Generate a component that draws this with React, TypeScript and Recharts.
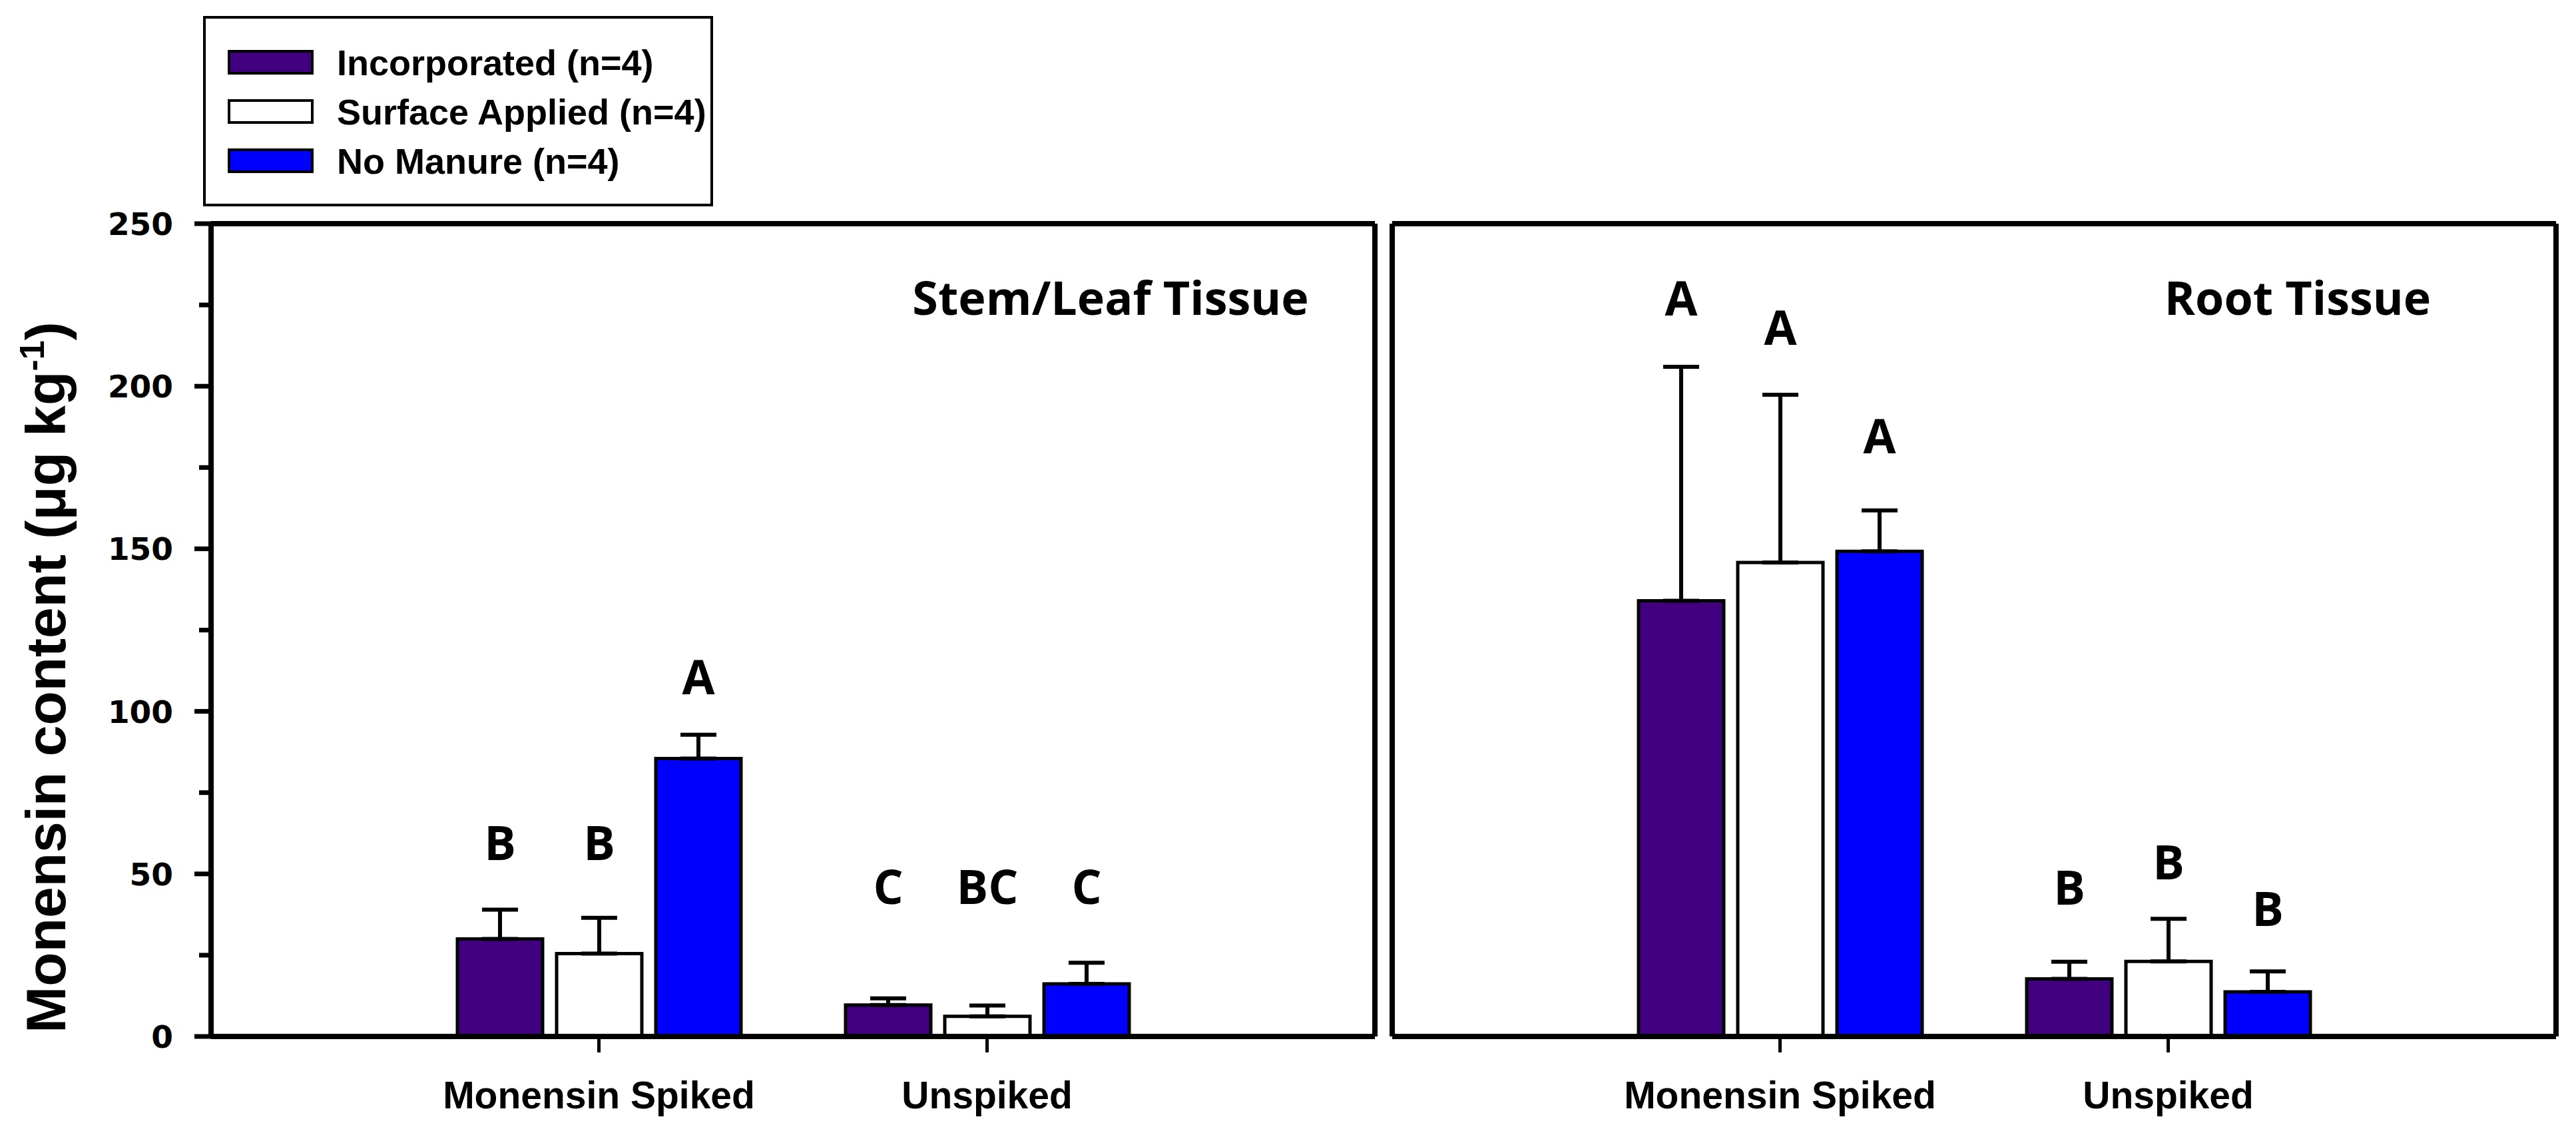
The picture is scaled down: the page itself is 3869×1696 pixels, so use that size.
import React from 'react';
import { BarChart, Bar, XAxis, YAxis, ErrorBar, LabelList, Legend } from 'recharts';

// ---------- data ----------
const categories = ['Monensin Spiked', 'Unspiked'];
const seriesKeys = ['inc', 'sur', 'non'];
const seriesNames = ['Incorporated (n=4)', 'Surface Applied (n=4)', 'No Manure (n=4)'];
const seriesColors = ['#400080', '#FFFFFF', '#0000FF'];
const yTicks = [0, 25, 50, 75, 100, 125, 150, 175, 200, 225, 250];
const yMajorTicks = [0, 50, 100, 150, 200, 250];

// Stem/Leaf tissue panel
const stemIncorporated = [30, 9.7];
const stemSurface = [25.5, 6.2];
const stemNoManure = [85.5, 16.2];
const stemIncorporatedSE = [9, 2];
const stemSurfaceSE = [11, 3.3];
const stemNoManureSE = [7.3, 6.5];
const stemIncorporatedLetters = ['B', 'C'];
const stemSurfaceLetters = ['B', 'BC'];
const stemNoManureLetters = ['A', 'C'];
const stemIncorporatedLetterY = [59.5, 46];
const stemSurfaceLetterY = [59.5, 46];
const stemNoManureLetterY = [110.5, 46];

// Root tissue panel
const rootIncorporated = [134, 17.7];
const rootSurface = [145.8, 23.1];
const rootNoManure = [149.2, 13.7];
const rootIncorporatedSE = [72, 5.3];
const rootSurfaceSE = [51.6, 13.1];
const rootNoManureSE = [12.6, 6.3];
const rootIncorporatedLetters = ['A', 'B'];
const rootSurfaceLetters = ['A', 'B'];
const rootNoManureLetters = ['A', 'B'];
const rootIncorporatedLetterY = [227, 45.7];
const rootSurfaceLetterY = [218, 53.5];
const rootNoManureLetterY = [184.5, 39.3];

function buildData(vals: number[][], ses: number[][], letters: string[][], letterYs: number[][]) {
  return categories.map((c, i) => {
    const row: any = { category: c };
    seriesKeys.forEach((k, s) => {
      row[k] = vals[s][i];
      row[k + 'Err'] = [0, ses[s][i]];
      row[k + 'Letter'] = letters[s][i];
      row[k + 'LetterY'] = letterYs[s][i];
    });
    return row;
  });
}

const stemData = buildData(
  [stemIncorporated, stemSurface, stemNoManure],
  [stemIncorporatedSE, stemSurfaceSE, stemNoManureSE],
  [stemIncorporatedLetters, stemSurfaceLetters, stemNoManureLetters],
  [stemIncorporatedLetterY, stemSurfaceLetterY, stemNoManureLetterY]
);
const rootData = buildData(
  [rootIncorporated, rootSurface, rootNoManure],
  [rootIncorporatedSE, rootSurfaceSE, rootNoManureSE],
  [rootIncorporatedLetters, rootSurfaceLetters, rootNoManureLetters],
  [rootIncorporatedLetterY, rootSurfaceLetterY, rootNoManureLetterY]
);

// ---------- styles ----------
const ARIAL = '"Liberation Sans", Arial, sans-serif';
const CALIBRI = '"Open Sans", Lato, sans-serif';
const FRAME = { stroke: '#000', strokeWidth: 8 };

const makeLetterLabel = (data: any[], key: string) => (props: any) => {
  const vb = props.viewBox || props;
  const x = Number(vb.x);
  const y = Number(vb.y);
  const w = Number(vb.width);
  const h = Number(vb.height);
  const idx = props.index;
  const row = data[idx];
  if (!row) return null;
  const top = Math.min(y, y + h);
  const bottom = Math.max(y, y + h);
  const pxPerUnit = (bottom - top) / row[key];
  const ly = bottom - row[key + 'LetterY'] * pxPerUnit;
  return (
    <text
      x={x + w / 2}
      y={ly}
      dy="0.36em"
      textAnchor="middle"
      fontFamily={CALIBRI}
      fontWeight={700}
      fontSize={71}
      fill="#000"
    >
      {props.value}
    </text>
  );
};

const YTick = (props: any) => {
  const { x, y, payload } = props;
  const v = payload.value;
  const major = yMajorTicks.includes(v);
  return (
    <g>
      <line x1={x - (major ? 25 : 18)} x2={x} y1={y} y2={y} stroke="#000" strokeWidth={7} />
      {major && (
        <text
          x={x - 57}
          y={y}
          dy="0.36em"
          textAnchor="end"
          fontFamily='"DejaVu Sans", sans-serif'
          fontWeight="bold"
          fontSize={47}
          fill="#000"
        >
          {v}
        </text>
      )}
    </g>
  );
};

const renderLegend = (props: any) => {
  const payload: any[] = props.payload || [];
  const ordered = seriesNames.map((name, i) => {
    const p = payload.find((q: any) => q.value === name);
    return { name: p ? p.value : name, color: seriesColors[i] };
  });
  return (
    <div
      style={{
        position: 'relative',
        width: 766,
        height: 286,
        border: '4px solid #000',
        boxSizing: 'border-box',
        background: '#fff',
      }}
    >
      {ordered.map((p, i) => (
        <div
          key={i}
          style={{
            position: 'absolute',
            left: 33,
            top: 28.5 + 74 * i,
            height: 74,
            display: 'flex',
            alignItems: 'center',
            whiteSpace: 'nowrap',
          }}
        >
          <div
            style={{
              width: 129,
              height: 37,
              boxSizing: 'border-box',
              border: '4px solid #000',
              background: p.color,
            }}
          />
          <span
            style={{
              marginLeft: 35,
              fontFamily: ARIAL,
              fontWeight: 700,
              fontSize: 54,
              lineHeight: '54px',
              color: '#000',
            }}
          >
            {p.name}
          </span>
        </div>
      ))}
    </div>
  );
};

function Panel({ data, width, marginLeft, yAxisWidth, marginRight, showY, showLegend }: any) {
  return (
    <BarChart
      width={width}
      height={1696}
      data={data}
      margin={{ top: 326, right: marginRight, bottom: 19, left: marginLeft }}
      barSize={128}
      barGap={21}
    >
      <XAxis
        dataKey="category"
        interval={0}
        padding={{ left: 291, right: 291 }}
        height={120}
        tickSize={24}
        tickMargin={44}
        tickLine={{ stroke: '#000', strokeWidth: 5 }}
        axisLine={FRAME}
        tick={{ fill: '#000', fontSize: 57, fontWeight: 700, fontFamily: ARIAL }}
      />
      <XAxis xAxisId="top" orientation="top" dataKey="category" height={10} tick={false} tickLine={false} axisLine={FRAME} />
      <YAxis
        domain={[0, 250]}
        ticks={yTicks}
        interval={0}
        width={yAxisWidth}
        tickSize={0}
        tickMargin={0}
        tickLine={false}
        axisLine={FRAME}
        tick={showY ? <YTick /> : false}
      />
      <YAxis yAxisId="right" orientation="right" domain={[0, 250]} width={10} tick={false} tickLine={false} axisLine={FRAME} />
      {showLegend && (
        <Legend
          layout="vertical"
          align="center"
          verticalAlign="middle"
          content={renderLegend}
          wrapperStyle={{ left: 305, top: 24, width: 766, height: 286 }}
        />
      )}
      {seriesKeys.map((k, s) => (
        <Bar
          key={k}
          dataKey={k}
          name={seriesNames[s]}
          fill={seriesColors[s]}
          stroke="#000"
          strokeWidth={5}
          isAnimationActive={false}
        >
          <ErrorBar dataKey={k + 'Err'} direction="y" width={27} strokeWidth={6} stroke="#000" />
          <LabelList dataKey={k + 'Letter'} content={makeLetterLabel(data, k)} />
        </Bar>
      ))}
    </BarChart>
  );
}

export default function App() {
  return (
    <div style={{ position: 'absolute', left: 0, top: 0, width: 3869, height: 1696, background: '#fff' }}>
      <div style={{ position: 'absolute', left: 0, top: 0 }}>
        <Panel data={stemData} width={2080} marginLeft={0} yAxisWidth={317} marginRight={5} showY showLegend />
      </div>
      <div style={{ position: 'absolute', left: 2070, top: 0 }}>
        <Panel data={rootData} width={1799} marginLeft={0} yAxisWidth={21} marginRight={20} showY={false} showLegend={false} />
      </div>
      <svg
        width={3869}
        height={1696}
        style={{ position: 'absolute', left: 0, top: 0, pointerEvents: 'none' }}
      >
        <text
          transform="translate(98,1017.5) rotate(-90)"
          textAnchor="middle"
          fontFamily={ARIAL}
          fontWeight="bold"
          fontSize={84}
          fill="#000"
        >
          Monensin content (μg kg
          <tspan fontSize={52} dy={-32}>-1</tspan>
          <tspan dy={32}>)</tspan>
        </text>
        <text x={1668} y={473} textAnchor="middle" fontFamily={CALIBRI} fontWeight={700} fontSize={70} fill="#000">
          Stem/Leaf Tissue
        </text>
        <text x={3451} y={473} textAnchor="middle" fontFamily={CALIBRI} fontWeight={700} fontSize={70} fill="#000">
          Root Tissue
        </text>
      </svg>
    </div>
  );
}
